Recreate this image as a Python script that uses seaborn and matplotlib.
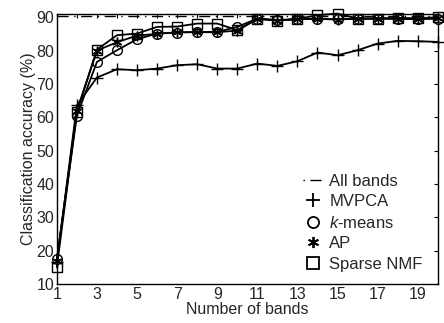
import numpy as np
import pandas as pd
import matplotlib
matplotlib.use("Agg")
import matplotlib.pyplot as plt
import seaborn as sns
from matplotlib.lines import Line2D

# values
bands = list(range(1, 21))
all_bands = 90.3
mvpca = [16.5, 63.6, 71.9, 74.4, 74.1, 74.6, 75.6, 75.9, 74.6, 74.6,
         76.1, 75.4, 76.8, 79.4, 78.6, 80.1, 82.1, 82.9, 82.8, 82.6]
kmeans = [17.5, 60.5, 76.6, 80.1, 83.4, 85.1, 85.4, 85.6, 85.6, 87.1,
          89.6, 89.2, 89.4, 89.5, 89.4, 89.5, 89.6, 89.5, 89.4, 89.6]
ap = [17.0, 62.0, 80.0, 82.5, 84.5, 85.0, 85.5, 85.5, 85.5, 86.0,
      89.5, 89.0, 89.4, 89.5, 89.3, 89.6, 89.6, 89.6, 89.5, 89.7]
sparse_nmf = [15.0, 61.5, 80.3, 84.6, 85.1, 87.1, 87.2, 88.1, 88.1, 86.1,
              89.5, 89.0, 89.5, 90.6, 91.1, 89.6, 89.6, 89.8, 89.7, 90.0]

series = {"MVPCA": (mvpca, "+"), "$k$-means": (kmeans, "o"),
          "AP": (ap, (6, 2, 0)), "Sparse NMF": (sparse_nmf, "s")}

sns.set_style("white")
plt.rcParams["font.family"] = ["Liberation Sans", "DejaVu Sans"]
plt.rcParams["mathtext.fontset"] = "custom"
plt.rcParams["mathtext.it"] = "Liberation Sans:italic"
fs = 11.5

fig = plt.figure(figsize=(4.44, 3.23), dpi=100)
ax = fig.add_axes([0.128, 0.121, 0.858, 0.836])

ax.axhline(all_bands, color="black", ls="-.", lw=1.0, dashes=(8, 4, 1, 4))
for name, (vals, mk) in series.items():
    df = pd.DataFrame({"band": bands, "acc": vals})
    sns.lineplot(data=df, x="band", y="acc", ax=ax, color="black", lw=1.3,
                 marker=mk, markersize=7 if mk != "+" else 9,
                 markerfacecolor="none" if mk in ("o", "s") else "black",
                 markeredgecolor="black", markeredgewidth=1.0,
                 clip_on=False, zorder=3)

ax.set_xlim(1, 20)
ax.set_ylim(10, 91)
ax.set_xticks(bands)
ax.set_xticklabels([str(b) if b % 2 == 1 else "" for b in bands])
ax.set_yticks(range(10, 91, 10))
ax.tick_params(direction="in", top=True, right=True, length=3, width=0.8,
               labelsize=fs, pad=2, color="black")
for s in ax.spines.values():
    s.set_color("black")
    s.set_linewidth(1.0)
ax.set_xlabel("Number of bands", fontsize=fs, labelpad=0)
ax.set_ylabel("Classification accuracy (%)", fontsize=fs, labelpad=0)

handles = [Line2D([], [], color="black", ls="-.", lw=1.0, dashes=(1, 4, 8, 4))]
labels = ["All bands"]
for name, (vals, mk) in series.items():
    handles.append(Line2D([], [], ls="none", marker=mk, color="black",
                          markersize=8 if mk != "+" else 10, markeredgewidth=1.3,
                          markerfacecolor="none" if mk in ("o", "s") else "black"))
    labels.append(name)
ax.legend(handles, labels, loc="lower right", frameon=False, fontsize=12,
          handlelength=1.2, handletextpad=0.4, labelspacing=0.33,
          bbox_to_anchor=(1.0, -0.01))

fig.savefig("out.png", dpi=100)
